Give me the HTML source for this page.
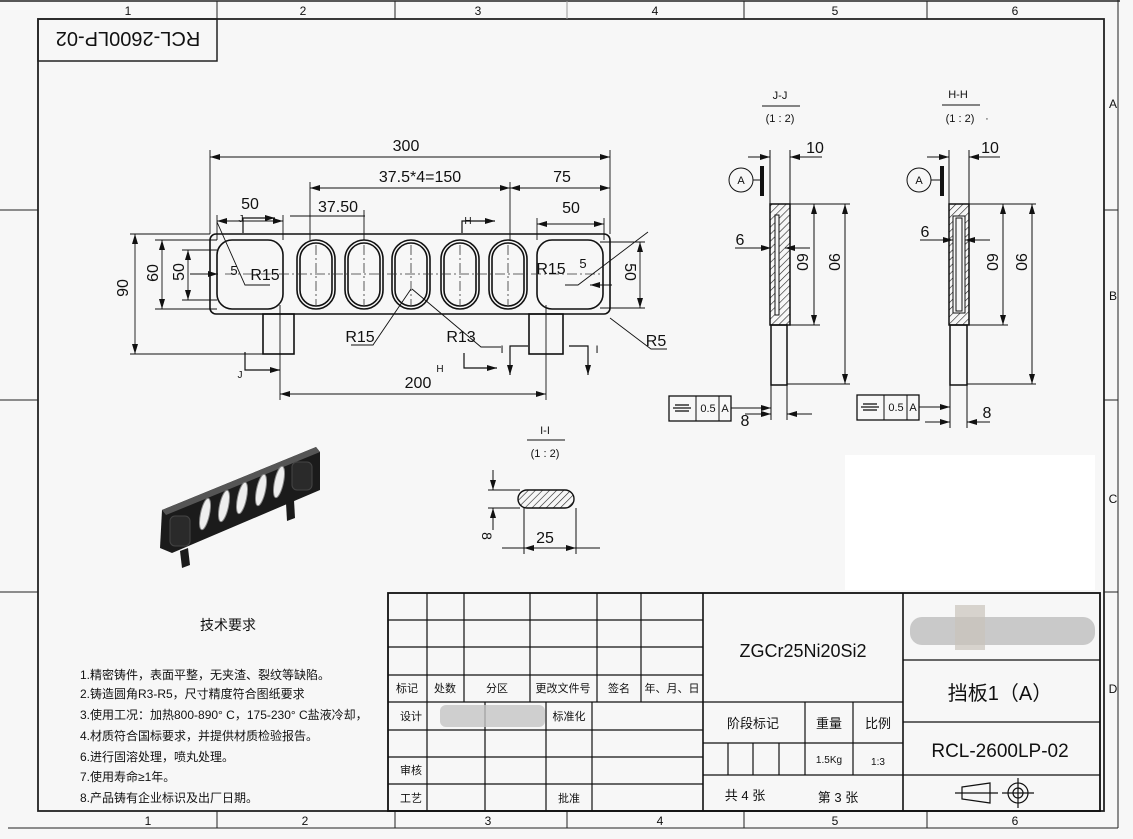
<!DOCTYPE html>
<html><head><meta charset="utf-8"><style>
html,body{margin:0;padding:0;background:#f7f7f7;}
svg{display:block}
text{font-family:"Liberation Sans Narrow","Liberation Sans","Noto Sans CJK SC",sans-serif;fill:#111}
.c{font-family:"Liberation Sans","Noto Sans CJK SC",sans-serif}
</style></head><body>
<svg width="1133" height="839" viewBox="0 0 1133 839" xmlns="http://www.w3.org/2000/svg">
<defs>
<pattern id="h" width="5" height="5" patternUnits="userSpaceOnUse" patternTransform="rotate(45)"><line x1="0" y1="0" x2="0" y2="5" stroke="#222" stroke-width="1.2"/></pattern>
<marker id="a" markerWidth="10" markerHeight="6" refX="10" refY="3" orient="auto-start-reverse" markerUnits="userSpaceOnUse"><path d="M0,0L10,3L0,6z" fill="#111"/></marker>
</defs>
<rect width="1133" height="839" fill="#f7f7f7"/>
<rect x="845" y="455" width="250" height="135" fill="#fff"/>
<g stroke="#222" fill="none">
<line x1="0" y1="1" x2="1120" y2="1" stroke-width="1.5"/>
<line x1="1118" y1="0" x2="1118" y2="828"/>
<line x1="8" y1="828" x2="1118" y2="828"/>
<rect x="38" y="19" width="1066" height="792" stroke-width="1.8"/>
<rect x="38" y="19" width="179" height="42" stroke-width="1.5"/>
<line x1="217" y1="1" x2="217" y2="19"/><line x1="395" y1="1" x2="395" y2="19"/><line x1="567" y1="1" x2="567" y2="19" stroke="#999"/><line x1="744" y1="1" x2="744" y2="19"/><line x1="927" y1="1" x2="927" y2="19"/>
<line x1="217" y1="811" x2="217" y2="828"/><line x1="395" y1="811" x2="395" y2="828"/><line x1="567" y1="811" x2="567" y2="828"/><line x1="744" y1="811" x2="744" y2="828"/><line x1="927" y1="811" x2="927" y2="828"/>
<line x1="1104" y1="210" x2="1118" y2="210"/><line x1="1104" y1="400" x2="1118" y2="400"/><line x1="1104" y1="592" x2="1118" y2="592"/>
<line x1="0" y1="210" x2="38" y2="210"/><line x1="0" y1="400" x2="38" y2="400"/><line x1="0" y1="592" x2="38" y2="592"/>
</g>
<g font-size="12" text-anchor="middle">
<text x="128" y="15">1</text><text x="303" y="15">2</text><text x="478" y="15">3</text><text x="655" y="15">4</text><text x="835" y="15">5</text><text x="1015" y="15">6</text>
<text x="148" y="825">1</text><text x="305" y="825">2</text><text x="488" y="825">3</text><text x="660" y="825">4</text><text x="835" y="825">5</text><text x="1015" y="825">6</text>
<text x="1113" y="108">A</text><text x="1113" y="300">B</text><text x="1113" y="503">C</text><text x="1113" y="693">D</text>
</g>
<text x="128" y="48" font-size="20" text-anchor="middle" transform="rotate(180 128 40)">RCL-2600LP-02</text>

<g stroke="#111" fill="none" stroke-width="1.6">
<rect x="210" y="234" width="400" height="80" rx="6"/>
<rect x="217" y="240" width="66" height="69" rx="15"/>
<rect x="537" y="240" width="66" height="69" rx="15"/>
<g id="sl"><rect x="297" y="240" width="38" height="69" rx="19"/><rect x="300" y="243" width="32" height="63" rx="16"/></g>
<use href="#sl" x="48"/><use href="#sl" x="95"/><use href="#sl" x="144"/><use href="#sl" x="192"/>
<rect x="263" y="314" width="31" height="40"/>
<rect x="529" y="314" width="34" height="40"/>
</g>
<g stroke="#333" stroke-width="0.8" fill="none" stroke-dasharray="10,3,2,3">
<line x1="225" y1="274" x2="600" y2="274"/>
<line x1="316" y1="245" x2="316" y2="305"/><line x1="364" y1="245" x2="364" y2="305"/><line x1="411" y1="245" x2="411" y2="305"/><line x1="460" y1="245" x2="460" y2="305"/><line x1="508" y1="245" x2="508" y2="305"/>
</g>
<g stroke="#111" stroke-width="0.9" fill="none">
<line x1="210" y1="150" x2="210" y2="234"/><line x1="610" y1="150" x2="610" y2="234"/>
<line x1="210" y1="157" x2="610" y2="157" marker-start="url(#a)" marker-end="url(#a)"/>
<line x1="310" y1="182" x2="310" y2="240"/><line x1="510" y1="182" x2="510" y2="240"/>
<line x1="310" y1="188" x2="510" y2="188" marker-start="url(#a)" marker-end="url(#a)"/>
<line x1="510" y1="188" x2="610" y2="188" marker-start="url(#a)" marker-end="url(#a)"/>
<line x1="217" y1="215" x2="217" y2="240"/><line x1="283" y1="215" x2="283" y2="240"/>
<line x1="217" y1="221" x2="283" y2="221" marker-start="url(#a)" marker-end="url(#a)"/>
<line x1="290" y1="216" x2="365" y2="216"/><line x1="364" y1="210" x2="364" y2="240"/>
<line x1="537" y1="218" x2="537" y2="240"/><line x1="604" y1="218" x2="604" y2="240"/>
<line x1="537" y1="224" x2="604" y2="224" marker-start="url(#a)" marker-end="url(#a)"/>
<line x1="130" y1="234" x2="210" y2="234"/><line x1="130" y1="354" x2="263" y2="354"/>
<line x1="135" y1="234" x2="135" y2="354" marker-start="url(#a)" marker-end="url(#a)"/>
<line x1="155" y1="240" x2="217" y2="240"/><line x1="155" y1="309" x2="217" y2="309"/>
<line x1="162" y1="240" x2="162" y2="309" marker-start="url(#a)" marker-end="url(#a)"/>
<line x1="182" y1="250" x2="217" y2="250"/><line x1="182" y1="300" x2="217" y2="300"/>
<line x1="188" y1="250" x2="188" y2="300" marker-start="url(#a)" marker-end="url(#a)"/>
<line x1="600" y1="242" x2="645" y2="242"/><line x1="600" y1="308" x2="645" y2="308"/>
<line x1="640" y1="242" x2="640" y2="308" marker-start="url(#a)" marker-end="url(#a)"/>
<line x1="280" y1="305" x2="280" y2="400"/><line x1="546" y1="305" x2="546" y2="400"/>
<line x1="280" y1="394" x2="546" y2="394" marker-start="url(#a)" marker-end="url(#a)"/>
<polyline points="217,222 245,285 270,285"/><polyline points="648,232 578,285 565,285"/>
<polyline points="351,345 373,345 411,289"/><polyline points="501,347 481,347 412,289"/>
<polyline points="667,349 651,349 610,318"/>
<line x1="190" y1="274" x2="218" y2="274" marker-end="url(#a)"/>
<line x1="612" y1="285" x2="590" y2="285" marker-end="url(#a)"/>
</g>
<g stroke="#111" stroke-width="1.2" fill="none">
<polyline points="243,233 243,218 275,218" marker-end="url(#a)"/>
<polyline points="245,352 245,370 280,370" marker-end="url(#a)"/>
<polyline points="462,233 462,221 495,221" marker-end="url(#a)"/>
<polyline points="464,353 464,368 497,368" marker-end="url(#a)"/>
<polyline points="528,346 510,346 510,375" marker-end="url(#a)"/>
<polyline points="569,346 588,346 588,375" marker-end="url(#a)"/>
</g>
<g font-size="16" text-anchor="middle">
<text x="406" y="151">300</text><text x="420" y="182">37.5*4=150</text><text x="562" y="182">75</text>
<text x="250" y="209">50</text><text x="338" y="212">37.50</text><text x="571" y="213">50</text>
<text x="122" y="294" transform="rotate(-90 122 288)">90</text>
<text x="152" y="279" transform="rotate(-90 152 273)">60</text>
<text x="178" y="278" transform="rotate(-90 178 272)">50</text>
<text x="630" y="277" transform="rotate(90 630 272)">50</text>
<text x="265" y="280">R15</text><text x="551" y="274">R15</text><text x="234" y="275" font-size="13">5</text><text x="583" y="268" font-size="13">5</text>
<text x="360" y="342">R15</text><text x="461" y="342">R13</text><text x="656" y="346">R5</text>
<text x="418" y="388">200</text>
<text x="241" y="222" font-size="10">J</text><text x="240" y="378" font-size="10">J</text>
<text x="468" y="224" font-size="10">H</text><text x="440" y="372" font-size="10">H</text>
<text x="502" y="353" font-size="11">I</text><text x="597" y="353" font-size="11">I</text>
</g>

<g font-size="11" text-anchor="middle"><text x="780" y="99">J-J</text><text x="780" y="122">(1 : 2)</text>
<text x="958" y="98">H-H</text><text x="960" y="122">(1 : 2)</text><text x="987" y="122">·</text></g>
<g stroke="#111" stroke-width="1" fill="none">
<line x1="762" y1="106" x2="800" y2="106"/><line x1="942" y1="105" x2="980" y2="105"/>
<rect x="770" y="204" width="20" height="121" fill="url(#h)" stroke-width="1.5"/>
<rect x="775" y="215" width="4" height="100" fill="#f7f7f7"/>
<rect x="771" y="325" width="16" height="60" stroke-width="1.5"/>
<rect x="949" y="204" width="20" height="121" fill="url(#h)" stroke-width="1.5"/>
<rect x="953" y="216" width="12" height="97" fill="#f7f7f7"/>
<rect x="956" y="218" width="6" height="93"/>
<rect x="950" y="325" width="17" height="60" stroke-width="1.5"/>
<circle cx="741" cy="180" r="12"/><line x1="753" y1="180" x2="762" y2="180"/>
<circle cx="919" cy="180" r="12"/><line x1="931" y1="180" x2="941" y2="180"/>
<line x1="770" y1="150" x2="770" y2="204"/><line x1="790" y1="150" x2="790" y2="204"/>
<line x1="748" y1="157" x2="770" y2="157" marker-end="url(#a)"/><line x1="822" y1="157" x2="790" y2="157" marker-end="url(#a)"/>
<line x1="949" y1="150" x2="949" y2="204"/><line x1="969" y1="150" x2="969" y2="204"/>
<line x1="927" y1="157" x2="949" y2="157" marker-end="url(#a)"/><line x1="1000" y1="157" x2="969" y2="157" marker-end="url(#a)"/>
<line x1="790" y1="204" x2="850" y2="204"/><line x1="790" y1="325" x2="820" y2="325"/><line x1="787" y1="384" x2="850" y2="384"/>
<line x1="845" y1="204" x2="845" y2="384" marker-start="url(#a)" marker-end="url(#a)"/>
<line x1="814" y1="204" x2="814" y2="325" marker-start="url(#a)" marker-end="url(#a)"/>
<line x1="969" y1="204" x2="1036" y2="204"/><line x1="969" y1="325" x2="1008" y2="325"/><line x1="967" y1="384" x2="1036" y2="384"/>
<line x1="1032" y1="204" x2="1032" y2="384" marker-start="url(#a)" marker-end="url(#a)"/>
<line x1="1003" y1="204" x2="1003" y2="325" marker-start="url(#a)" marker-end="url(#a)"/>
<line x1="735" y1="248" x2="771" y2="248" marker-end="url(#a)"/><line x1="810" y1="248" x2="785" y2="248" marker-end="url(#a)"/>
<line x1="920" y1="240" x2="953" y2="240" marker-end="url(#a)"/><line x1="990" y1="240" x2="965" y2="240" marker-end="url(#a)"/>
<line x1="771" y1="385" x2="771" y2="420"/><line x1="787" y1="385" x2="787" y2="420"/>
<line x1="745" y1="414" x2="771" y2="414" marker-end="url(#a)"/><line x1="812" y1="414" x2="787" y2="414" marker-end="url(#a)"/>
<line x1="950" y1="385" x2="950" y2="428"/><line x1="967" y1="385" x2="967" y2="428"/>
<line x1="925" y1="422" x2="950" y2="422" marker-end="url(#a)"/><line x1="990" y1="422" x2="967" y2="422" marker-end="url(#a)"/>
<rect x="669" y="396" width="62" height="25" stroke-width="1.3"/><line x1="696" y1="396" x2="696" y2="421"/><line x1="719" y1="396" x2="719" y2="421"/>
<line x1="731" y1="408" x2="771" y2="408" marker-end="url(#a)"/>
<rect x="857" y="395" width="62" height="25" stroke-width="1.3"/><line x1="884" y1="395" x2="884" y2="420"/><line x1="907" y1="395" x2="907" y2="420"/>
<line x1="919" y1="407" x2="950" y2="407" marker-end="url(#a)"/>
<g stroke-width="1.3"><line x1="675" y1="405" x2="689" y2="405"/><line x1="673" y1="408" x2="691" y2="408"/><line x1="675" y1="411" x2="689" y2="411"/>
<line x1="863" y1="404" x2="877" y2="404"/><line x1="861" y1="407" x2="879" y2="407"/><line x1="863" y1="410" x2="877" y2="410"/></g>
</g>
<rect x="760" y="166" width="4" height="30" fill="#111"/><rect x="940" y="166" width="4" height="30" fill="#111"/>
<g font-size="16" text-anchor="middle">
<text x="815" y="153">10</text><text x="990" y="153">10</text>
<text x="740" y="245">6</text><text x="925" y="237">6</text>
<text x="803" y="268" transform="rotate(90 803 262)">60</text><text x="835" y="268" transform="rotate(90 835 262)">90</text>
<text x="993" y="268" transform="rotate(90 993 262)">60</text><text x="1022" y="268" transform="rotate(90 1022 262)">90</text>
<text x="745" y="426">8</text><text x="987" y="418">8</text>
</g>
<g font-size="11" text-anchor="middle"><text x="741" y="184">A</text><text x="919" y="184">A</text>
<text x="708" y="412">0.5</text><text x="725" y="412">A</text><text x="896" y="411">0.5</text><text x="913" y="411">A</text></g>

<g font-size="11" text-anchor="middle"><text x="545" y="434">I-I</text><text x="545" y="457">(1 : 2)</text></g>
<g stroke="#111" stroke-width="1" fill="none">
<line x1="527" y1="440" x2="565" y2="440"/>
<rect x="518" y="490" width="56" height="18" rx="9" fill="url(#h)" stroke-width="1.4"/>
<line x1="488" y1="490" x2="520" y2="490"/><line x1="488" y1="508" x2="520" y2="508"/>
<line x1="493" y1="470" x2="493" y2="490" marker-end="url(#a)"/><line x1="493" y1="530" x2="493" y2="508" marker-end="url(#a)"/>
<line x1="524" y1="508" x2="524" y2="554"/><line x1="576" y1="508" x2="576" y2="554"/>
<line x1="502" y1="548" x2="524" y2="548"/><line x1="524" y1="548" x2="576" y2="548" marker-start="url(#a)" marker-end="url(#a)"/><line x1="576" y1="548" x2="600" y2="548"/>
</g>
<text x="545" y="543" font-size="16" text-anchor="middle">25</text>
<text x="486" y="540" font-size="14" text-anchor="middle" transform="rotate(90 486 536)">8</text>

<polygon points="162,510 316,447 320,452 320,490 172,553 160,548" fill="#1b1b1b"/>
<polygon points="162,510 316,447 320,452 166,515" fill="#555"/>
<polygon points="180,551 188,548 190,565 182,568" fill="#1b1b1b"/>
<polygon points="286,503 294,500 295,518 287,521" fill="#1b1b1b"/>
<g fill="#eee" stroke="#888" stroke-width="1">
<ellipse cx="205" cy="514" rx="4.5" ry="16" transform="rotate(12 205 514)"/>
<ellipse cx="224" cy="506" rx="4.5" ry="16" transform="rotate(12 224 506)"/>
<ellipse cx="242" cy="498" rx="4.5" ry="16" transform="rotate(12 242 498)"/>
<ellipse cx="261" cy="490" rx="4.5" ry="16" transform="rotate(12 261 490)"/>
<ellipse cx="279" cy="482" rx="4.5" ry="16" transform="rotate(12 279 482)"/>
</g>
<rect x="170" y="516" width="20" height="30" rx="5" fill="#2a2a2a" stroke="#444"/>
<rect x="292" y="462" width="20" height="28" rx="5" fill="#2a2a2a" stroke="#444"/>

<g class="c" font-size="12">
<text x="200" y="630" font-size="14">技术要求</text>
<text x="80" y="679">1.精密铸件，表面平整，无夹渣、裂纹等缺陷。</text>
<text x="80" y="698">2.铸造圆角R3-R5，尺寸精度符合图纸要求</text>
<text x="80" y="719">3.使用工况：加热800-890° C，175-230° C盐液冷却，</text>
<text x="80" y="740">4.材质符合国标要求，并提供材质检验报告。</text>
<text x="80" y="761">6.进行固溶处理，喷丸处理。</text>
<text x="80" y="781">7.使用寿命≥1年。</text>
<text x="80" y="802">8.产品铸有企业标识及出厂日期。</text>
</g>

<g stroke="#111" stroke-width="1.2" fill="none">
<rect x="388" y="593" width="712" height="218" stroke-width="1.8"/>
<line x1="388" y1="620" x2="703" y2="620"/><line x1="388" y1="647" x2="703" y2="647"/><line x1="388" y1="675" x2="703" y2="675"/><line x1="388" y1="702" x2="903" y2="702"/>
<line x1="388" y1="730" x2="703" y2="730"/><line x1="388" y1="757" x2="703" y2="757"/><line x1="388" y1="784" x2="703" y2="784"/>
<line x1="427" y1="593" x2="427" y2="702"/><line x1="464" y1="593" x2="464" y2="702"/><line x1="530" y1="593" x2="530" y2="702"/><line x1="597" y1="593" x2="597" y2="702"/><line x1="641" y1="593" x2="641" y2="702"/>
<line x1="427" y1="702" x2="427" y2="811"/><line x1="485" y1="702" x2="485" y2="811"/><line x1="546" y1="702" x2="546" y2="811"/><line x1="592" y1="702" x2="592" y2="811"/>
<line x1="703" y1="593" x2="703" y2="811" stroke-width="1.6"/><line x1="903" y1="593" x2="903" y2="811" stroke-width="1.6"/>
<line x1="703" y1="743" x2="903" y2="743"/><line x1="703" y1="775" x2="1100" y2="775"/>
<line x1="805" y1="702" x2="805" y2="775"/><line x1="853" y1="702" x2="853" y2="775"/>
<line x1="728" y1="743" x2="728" y2="775"/><line x1="753" y1="743" x2="753" y2="775"/><line x1="779" y1="743" x2="779" y2="775"/>
<line x1="903" y1="660" x2="1100" y2="660"/><line x1="903" y1="722" x2="1100" y2="722"/>
<polygon points="962,787 990,783 990,803 962,799"/><line x1="955" y1="793" x2="998" y2="793"/>
<circle cx="1018" cy="793" r="10"/><circle cx="1018" cy="793" r="5"/><line x1="1002" y1="793" x2="1034" y2="793"/><line x1="1018" y1="778" x2="1018" y2="808"/>
</g>
<rect x="910" y="617" width="185" height="28" rx="12" fill="#bdbdbd" opacity="0.8"/>
<rect x="955" y="605" width="30" height="45" fill="#c9c3bb" opacity="0.7"/>
<rect x="440" y="705" width="105" height="22" rx="6" fill="#c4c4c4" opacity="0.8"/>
<g class="c" font-size="11" text-anchor="middle">
<text x="407" y="692">标记</text><text x="445" y="692">处数</text><text x="497" y="692">分区</text><text x="563" y="692">更改文件号</text><text x="619" y="692">签名</text><text x="672" y="692">年、月、日</text>
<text x="411" y="720">设计</text><text x="569" y="720">标准化</text><text x="411" y="774">审核</text><text x="411" y="802">工艺</text><text x="569" y="802">批准</text>
<text x="753" y="728" font-size="13">阶段标记</text><text x="829" y="728" font-size="13">重量</text><text x="878" y="728" font-size="13">比例</text>
<text x="829" y="763" font-size="10">1.5Kg</text><text x="878" y="765" font-size="10">1:3</text>
<text x="745" y="800" font-size="13">共 4 张</text><text x="838" y="802" font-size="13">第 3 张</text>
<text x="1000" y="700" font-size="20">挡板1（A）</text>
</g>
<text x="803" y="657" font-size="18" text-anchor="middle">ZGCr25Ni20Si2</text>
<text x="1000" y="757" font-size="19" text-anchor="middle">RCL-2600LP-02</text>
</svg>
</body></html>
